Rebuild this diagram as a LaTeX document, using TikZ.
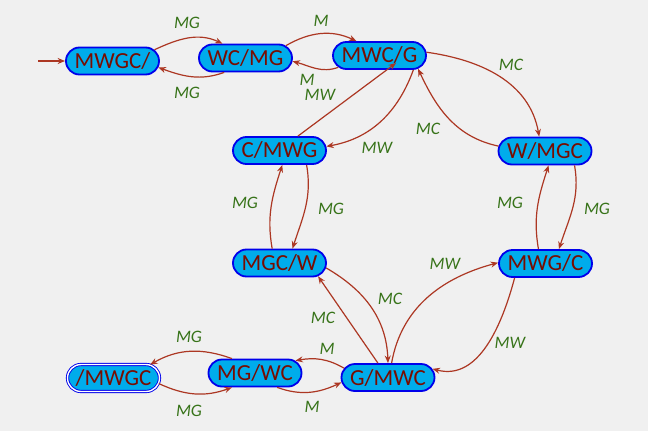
\documentclass[tikz,border=0pt]{standalone}
\usepackage{fontspec}
\setmainfont{Carlito}
\usetikzlibrary{shapes.misc,arrows.meta,calc}
\definecolor{bgcol}{RGB}{240,240,240}
\definecolor{statefill}{RGB}{0,172,235}
\definecolor{stateblue}{RGB}{0,0,235}
\definecolor{statetext}{RGB}{120,12,0}
\definecolor{edgecol}{RGB}{172,55,35}
\definecolor{lblcol}{RGB}{55,115,25}
\begin{document}
\begin{tikzpicture}[x=1pt,y=-1pt,
  state/.style={rounded rectangle, draw=stateblue, line width=1.8pt, fill=statefill,
    text=statetext, minimum width=93pt, minimum height=27pt, inner sep=0pt,
    font=\fontsize{23}{27}\selectfont},
  accept/.style={state, line width=0.9pt, double=white, double distance=1.4pt,
    minimum width=92pt, minimum height=27pt},
  trans/.style={draw=edgecol, line width=1.2pt, -{Stealth[length=7.5pt,width=6pt]}},
  lbl/.style={text=lblcol, font=\fontsize{17.5}{20}\selectfont\itshape}]
\fill[bgcol] (0,0) rectangle (648,431);
\useasboundingbox (0,0) rectangle (648,431);

\node[state] (s0) at (112.5,61) {MWGC/};
\node[state] (s1) at (245.5,58) {WC/MG};
\node[state] (s2) at (379.5,55.5) {MWC/G};
\node[state] (s3) at (279.5,150.5) {C/MWG};
\node[state] (s4) at (545,151) {W/MGC};
\node[state] (s5) at (279.5,263) {MGC/W};
\node[state] (s6) at (545.5,263.5) {MWG/C};
\node[state] (s7) at (388,377.5) {G/MWC};
\node[state] (s8) at (255,373) {MG/WC};
\node[accept] (s9) at (113.5,378) {/MWGC};

\coordinate (init) at (38,61);
\draw[trans] (init) -- (s0.west);

\draw[trans] (s0.15) to[out=25,in=155] (s1.148) node[lbl] at (187,23) {MG};
\draw[trans] (s1.214) to[out=200,in=-20] (s0.-8) node[lbl] at (187,93) {MG};
\draw[trans] (s1.17) to[out=30,in=155] (s2.148) node[lbl] at (321,21) {M};
\draw[trans] (s2.196) to[out=200,in=-15] (s1.-4) node[lbl] at (307,80) {M};
\draw[trans] (s3.38) -- ($(s2)+(16.5,7.5)$) node[lbl] at (320,95) {MW};
\draw[trans] (s2.-23) to[out=-110,in=10] (s3.5) node[lbl] at (377,148) {MW};
\draw[trans] (s2.4) to[out=-8,in=100] (s4.112) node[lbl] at (511,65) {MC};
\draw[trans] (s4.174) to[out=168,in=-65] (s2.-19) node[lbl] at (428,129) {MC};
\draw[trans] (s3.-28) to[out=-80,in=72] (s5.48) node[lbl] at (331,209) {MG};
\draw[trans] (s5.117) to[out=100,in=-108] (s3.-79) node[lbl] at (245,203) {MG};
\draw[trans] (s4.-26) to[out=-80,in=72] (s6.47) node[lbl] at (597,209) {MG};
\draw[trans] (s6.116) to[out=100,in=-108] (s4.-76) node[lbl] at (510,203) {MG};
\draw[trans] (s5.-6) to[out=-30,in=92] (s7.90) node[lbl] at (390,299) {MC};
\draw[trans] (s7.125) -- (s5.-19) node[lbl] at (323,318) {MC};
\draw[trans] (s7.76) to[out=80,in=195] (s6.179) node[lbl] at (445,264) {MW};
\draw[trans] (s6.205) to[out=-105,in=-15] (s7.11) node[lbl] at (510,343) {MW};
\draw[trans] (s7.168) to[out=150,in=10] (s8.17) node[lbl] at (327,349) {M};
\draw[trans] (s8.-33) to[out=-20,in=205] (s7.186) node[lbl] at (312,407) {M};
\draw[trans] (s8.148) to[out=160,in=30] (s9.20) node[lbl] at (189,337) {MG};
\draw[trans] (s9.-7) to[out=-25,in=200] (s8.212) node[lbl] at (189,411) {MG};
\end{tikzpicture}
\end{document}
